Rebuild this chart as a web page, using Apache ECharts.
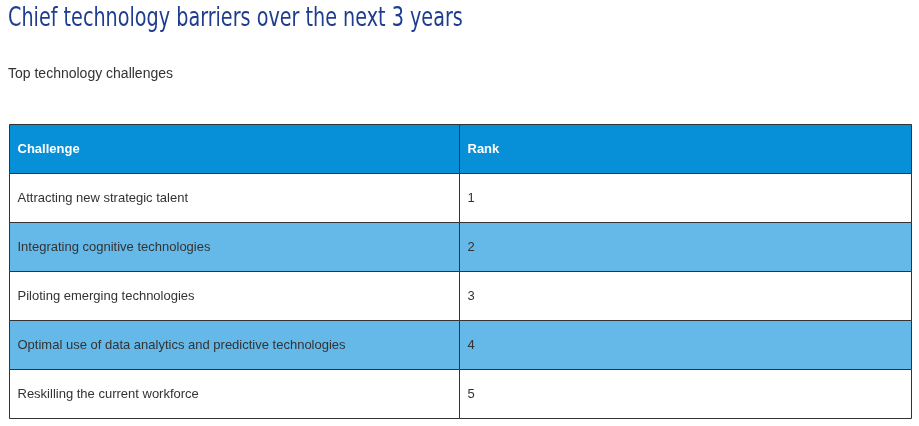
<!DOCTYPE html>
<html><head><meta charset="utf-8">
<script src="https://cdn.jsdelivr.net/npm/echarts@6/dist/echarts.min.js"></script>
<style>html,body{margin:0;padding:0;background:#fff}#c{width:919px;height:426px}</style>
</head><body><div id="c"></div>
<script>
const titleText = 'Chief technology barriers over the next 3 years';
const subtitleText = 'Top technology challenges';
const headers = ['Challenge', 'Rank'];
const challenges = ['Attracting new strategic talent','Integrating cognitive technologies','Piloting emerging technologies','Optimal use of data analytics and predictive technologies','Reskilling the current workforce'];
const ranks = [1, 2, 3, 4, 5];
const rows = [headers].concat(challenges.map((c, i) => [c, String(ranks[i])]));
const colEdges = [0, 0.998, 2];

const chart = echarts.init(document.getElementById('c'));
chart.setOption({
  animation: false,
  graphic: [
    {type: 'text', left: 8, top: 5, scaleX: 0.79,
     style: {text: titleText, font: '200 27px "DejaVu Sans Condensed", "DejaVu Sans", sans-serif', fill: '#1f3d8f'}},
    {type: 'text', left: 8, top: 67,
     style: {text: subtitleText, font: '14px Arial, "Liberation Sans", sans-serif', fill: '#333'}}
  ],
  grid: {left: 9, right: 8, top: 124, bottom: 8},
  xAxis: {type: 'value', min: 0, max: 2, show: false},
  yAxis: {type: 'category', data: rows.map((r, i) => i), inverse: true, show: false},
  series: [{
    type: 'custom',
    data: rows.map((r, i) => [i]),
    renderItem: function (params, api) {
      const i = api.value(0);
      const size = api.size([0, 1]);
      const h = size[1];
      const children = [];
      for (let c = 0; c < 2; c++) {
        const p0 = api.coord([colEdges[c], i]);
        const p1 = api.coord([colEdges[c + 1], i]);
        const x = Math.round(p0[0]) + 0.5, y = Math.round(p0[1] - h / 2) + 0.5, w = Math.round(p1[0] - p0[0]);
        const fill = i === 0 ? '#0790d8' : (i % 2 === 0 ? '#65b9e8' : '#ffffff');
        children.push({type: 'rect', shape: {x: x, y: y, width: w, height: h},
          style: {fill: fill, stroke: '#333', lineWidth: 1}});
        children.push({type: 'text', x: x + 8, y: y + h / 2,
          style: {text: rows[i][c], verticalAlign: 'middle', align: 'left',
            fill: i === 0 ? '#fff' : '#333', font: (i === 0 ? 'bold ' : '') + '13px Arial, Liberation Sans, sans-serif'}});
      }
      return {type: 'group', children: children};
    }
  }]
});
</script></body></html>
